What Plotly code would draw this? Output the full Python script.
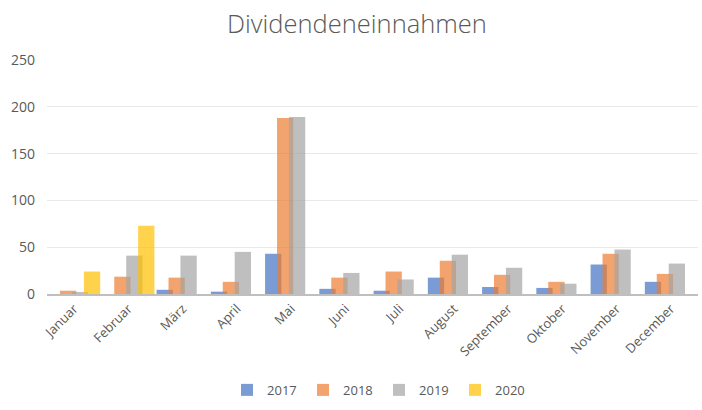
import plotly.graph_objects as go

months = ["Januar", "Februar", "März", "April", "Mai", "Juni", "Juli",
          "August", "September", "Oktober", "November", "December"]
v2017 = [0, 0, 4.5, 2.5, 43, 5.5, 3.5, 17.5, 7.5, 6.5, 31.5, 13]
v2018 = [3.5, 18.5, 17.5, 13, 188, 17.5, 24, 35.5, 20.5, 13, 43, 21.5]
v2019 = [1.5, 41, 41, 45, 189, 22.5, 15.5, 42, 28, 11, 47.5, 32.5]
v2020 = [24, 73, None, None, None, None, None, None, None, None, None, None]
years = ["2017", "2018", "2019", "2020"]

series = [v2017, v2018, v2019, v2020]
colors = ["#4472C4", "#ED7D31", "#A5A5A5", "#FFC000"]
offsets = [-0.48, -0.26, -0.04, 0.18]

FONT = "Open Sans"

fig = go.Figure()
for name, vals, col, off in zip(years, series, colors, offsets):
    fig.add_trace(go.Bar(
        x=months, y=vals, name=name, marker_color=col, opacity=0.7,
        marker_line_width=0, width=0.30, offset=off,
    ))

fig.update_layout(
    width=702, height=410,
    barmode="overlay",
    paper_bgcolor="white", plot_bgcolor="white",
    margin=dict(l=47, r=4, t=60, b=116, autoexpand=False),
    title=dict(text="Dividendeneinnahmen", x=0.5085, xanchor="center", y=0.942, yanchor="middle",
               font=dict(family=FONT, size=25.5, color="#595959", weight=300)),
    font=dict(family=FONT, size=13, color="#595959"),
    xaxis=dict(tickangle=-45, showgrid=False, ticks="", showline=True, automargin=False,
               linecolor="#BFBFBF", linewidth=2, tickfont=dict(size=13, color="#595959")),
    yaxis=dict(range=[0, 250], dtick=50, showgrid=True, gridcolor="#E8E8E8", gridwidth=1,
               zeroline=False, showline=False, ticks="", automargin=False,
               ticklabelstandoff=11, tickfont=dict(size=14, color="#595959")),
    legend=dict(orientation="h", x=0.51, xanchor="center", y=-0.41, yanchor="middle",
                font=dict(size=13, color="#595959"), traceorder="normal", itemwidth=30,
                entrywidth=31, entrywidthmode="pixels"),
    showlegend=True,
)

fig.write_html("out.html", config={"displayModeBar": False},
               post_script="document.body.style.margin='0';document.body.style.overflow='hidden';")
